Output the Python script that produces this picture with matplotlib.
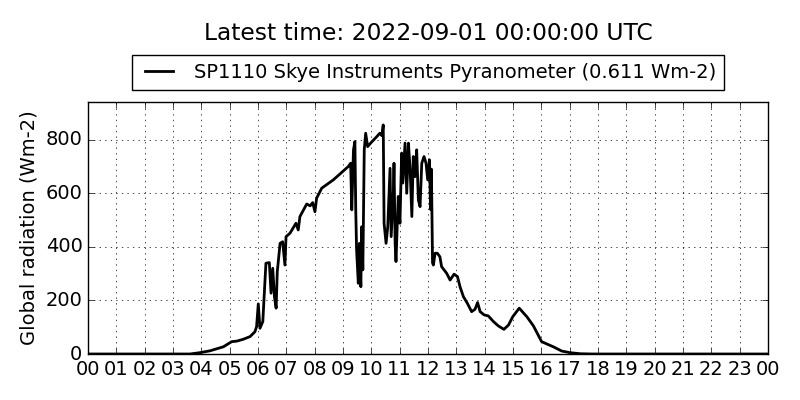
import matplotlib
matplotlib.use("Agg")
import matplotlib.pyplot as plt

plt.style.use("classic")
plt.rcParams["font.size"] = 14

# hour of day (UTC) and global radiation (Wm-2)
hours = [0.0, 3.6, 3.95, 4.31, 4.78, 5.07, 5.25, 5.48, 5.72, 5.89,
         5.95, 6.01, 6.07, 6.17, 6.21, 6.28, 6.40, 6.46, 6.52, 6.58,
         6.64, 6.68, 6.78, 6.87, 6.95, 6.99, 7.13, 7.34, 7.42, 7.48,
         7.72, 7.84, 7.93, 8.01, 8.07, 8.25, 8.66, 9.19, 9.27, 9.31,
         9.37, 9.42, 9.45, 9.48, 9.54, 9.58, 9.63, 9.66, 9.70, 9.75,
         9.80, 9.87, 10.0, 10.19, 10.3, 10.37, 10.42, 10.45, 10.52, 10.58,
         10.66, 10.70, 10.78, 10.80, 10.84, 10.87, 10.95, 11.01, 11.07, 11.11,
         11.19, 11.25, 11.31, 11.37, 11.43, 11.48, 11.54, 11.60, 11.66, 11.72,
         11.78, 11.86, 11.93, 11.99, 12.05, 12.09, 12.12, 12.16, 12.19, 12.25,
         12.33, 12.42, 12.48, 12.66, 12.78, 12.92, 13.04, 13.13, 13.25, 13.39,
         13.54, 13.66, 13.75, 13.84, 13.98, 14.13, 14.31, 14.48, 14.68, 14.84,
         14.99, 15.22, 15.49, 15.72, 16.01, 16.42, 16.72, 17.01, 17.37, 17.8,
         24.0]
radiation = [0, 0, 5, 12, 27, 46, 48, 55, 65, 83,
             102, 187, 96, 121, 202, 339, 341, 227, 320, 214,
             171, 307, 413, 419, 332, 438, 451, 488, 463, 513,
             560, 553, 565, 531, 582, 619, 650, 700, 712, 538,
             762, 793, 538, 388, 264, 413, 251, 475, 314, 762,
             824, 774, 790, 811, 824, 815, 855, 488, 413, 475,
             693, 438, 612, 712, 413, 345, 588, 488, 750, 638,
             787, 600, 787, 687, 513, 737, 662, 762, 575, 550,
             712, 737, 712, 650, 725, 540, 690, 340, 332, 376,
             376, 363, 326, 301, 276, 298, 289, 251, 214, 189,
             158, 167, 192, 158, 146, 142, 121, 105, 92, 108,
             139, 171, 139, 105, 46, 27, 11, 5, 1, 0,
             0]

tick_hours = list(range(25))
tick_labels = ["%02d" % (h % 24) for h in tick_hours]

fig = plt.figure(figsize=(8, 4), dpi=100, facecolor="white")
ax = fig.add_axes([0.11, 0.115, 0.85, 0.63])

ax.plot(hours, radiation, color="black", linewidth=2,
        label="SP1110 Skye Instruments Pyranometer (0.611 Wm-2)")

ax.set_xlim(0, 24)
ax.set_ylim(0, max(radiation) * 1.1)
ax.set_xticks(tick_hours)
ax.set_xticklabels(tick_labels)
ax.set_yticks([0, 200, 400, 600, 800])
ax.grid(True)
ax.set_ylabel("Global radiation (Wm-2)")

ax.legend(loc="lower center", bbox_to_anchor=(0.5, 1.048), borderaxespad=0,
          fontsize=14)
fig.text(0.535, 0.915, "Latest time: 2022-09-01 00:00:00 UTC",
         ha="center", va="center", fontsize="large")

fig.savefig("out.png", dpi=100, facecolor="white")
